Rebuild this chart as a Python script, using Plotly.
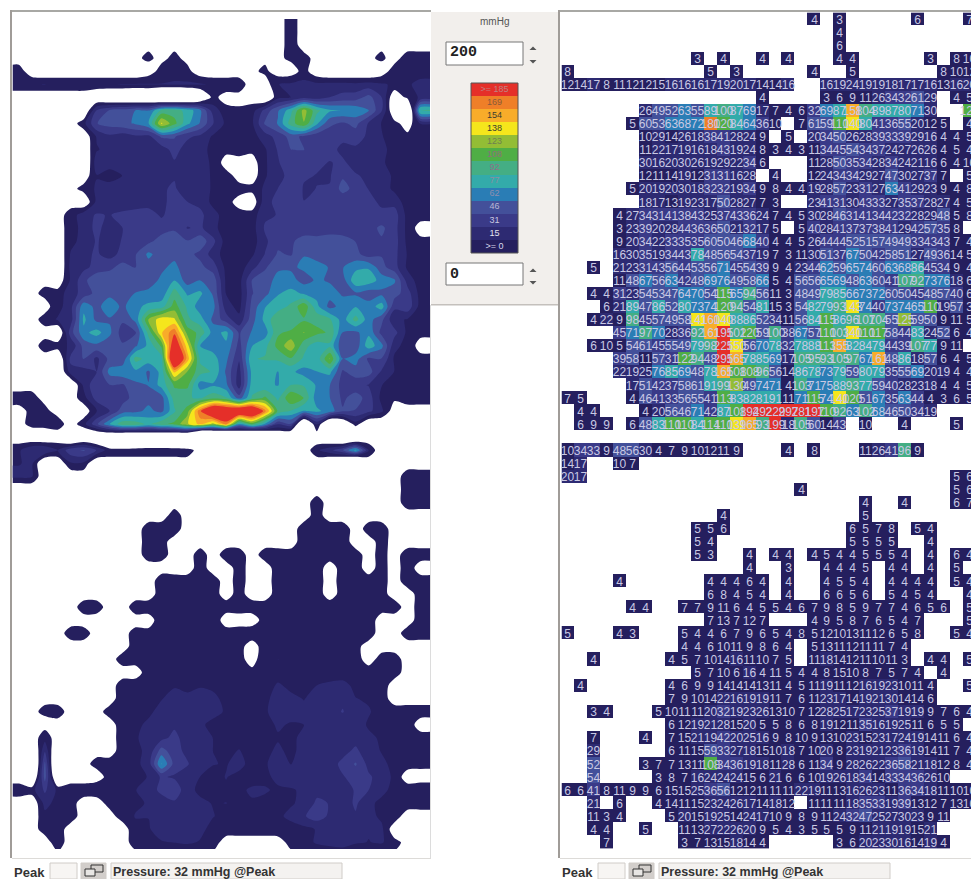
import plotly.graph_objects as go

W, H = 971, 879
CELL_W, CELL_H = 12.95, 13.07
N_COLS, N_ROWS = 32, 64

pressure = [
[0,0,0,0,0,0,0,0,0,0,0,0,0,0,0,0,0,0,0,4,0,3,0,0,0,0,0,6,0,0,0,7],
[0,0,0,0,0,0,0,0,0,0,0,0,0,0,0,0,0,0,0,0,0,4,0,0,0,0,0,0,0,0,0,0],
[0,0,0,0,0,0,0,0,0,0,0,0,0,0,0,0,0,0,0,0,0,6,0,0,0,0,0,0,0,0,0,0],
[0,0,0,0,0,0,0,0,0,0,3,0,4,0,0,4,0,4,0,0,0,4,4,0,0,0,0,0,3,0,8,10],
[8,0,0,0,0,0,0,0,0,0,0,5,0,3,0,0,0,0,0,4,0,0,5,0,0,0,0,0,0,8,10,12],
[12,14,17,8,11,12,12,15,16,16,16,17,19,20,17,14,14,16,0,0,16,19,24,19,19,18,17,17,16,13,16,20],
[0,0,0,0,0,0,0,0,0,0,0,0,0,0,0,4,0,0,0,0,3,6,9,11,26,34,32,61,29,0,4,5],
[0,0,0,0,0,0,26,49,52,63,55,89,100,87,69,17,7,4,6,32,69,87,158,104,89,87,80,71,30,0,0,120],
[0,0,0,0,0,5,60,53,63,68,72,180,120,84,64,36,10,0,7,61,59,110,140,80,41,36,55,20,12,5,0,4],
[0,0,0,0,0,0,10,29,14,26,18,38,41,28,24,9,0,5,0,20,34,50,26,28,39,33,39,29,16,4,4,5],
[0,0,0,0,0,0,11,22,17,19,16,18,43,19,24,8,3,4,3,11,34,45,54,34,37,24,27,26,26,4,5,4],
[0,0,0,0,0,0,30,16,20,30,26,19,29,22,34,6,0,0,0,11,28,50,35,34,28,34,24,21,16,6,4,10],
[0,0,0,0,0,0,12,11,14,19,12,31,31,16,28,0,4,0,0,12,24,34,34,29,27,47,30,27,37,7,0,5],
[0,0,0,0,0,5,20,19,20,30,18,32,32,19,34,9,8,4,4,19,28,57,23,31,27,63,41,29,23,9,4,8],
[0,0,0,0,0,0,18,17,13,19,23,17,50,28,27,7,3,0,0,23,41,31,30,43,33,27,35,37,28,27,4,5],
[0,0,0,0,4,27,34,31,41,38,43,25,37,43,36,24,7,4,5,30,28,46,31,41,34,42,32,28,29,48,5,8],
[0,0,0,0,3,23,39,20,28,44,36,36,50,21,32,17,5,0,5,40,28,41,37,37,38,41,29,42,57,35,8,0],
[0,0,0,0,9,20,34,22,33,35,35,60,50,46,68,40,4,4,5,26,44,44,52,51,57,49,49,33,43,43,7,4],
[0,0,0,0,16,30,35,19,34,43,78,48,56,54,37,19,7,3,11,30,51,37,67,50,42,58,51,27,49,36,14,5],
[0,0,5,0,21,23,31,43,56,44,53,56,71,45,54,39,9,4,23,44,62,59,65,74,60,63,68,86,45,34,9,4],
[0,0,0,0,11,48,67,56,63,42,48,69,76,49,58,66,5,4,56,56,65,69,48,63,60,41,107,92,73,76,18,6],
[0,0,4,4,31,23,54,53,47,64,70,54,115,65,94,56,11,3,48,49,79,85,66,73,72,60,50,45,48,57,40,6],
[0,0,0,6,21,89,47,86,52,80,73,74,120,94,54,81,15,3,54,82,79,93,143,74,40,73,74,65,110,19,57,3],
[0,0,4,22,9,98,45,57,49,58,141,160,140,88,86,52,34,11,56,84,115,86,96,107,104,55,125,59,50,9,11,5],
[0,0,0,0,45,71,97,70,28,36,92,161,195,102,120,59,100,38,67,57,110,103,140,110,117,58,44,83,24,52,6,4],
[0,0,6,10,5,54,61,45,55,49,79,98,225,150,56,70,78,32,78,88,113,155,82,84,79,44,39,107,77,9,11,0],
[0,0,0,0,39,58,11,57,31,122,94,48,295,165,78,85,69,17,105,95,93,105,97,67,161,48,86,18,57,6,4,5],
[0,0,0,0,22,19,25,76,85,69,48,78,165,108,108,96,56,14,86,78,73,79,59,80,79,35,55,69,20,19,4,4],
[0,0,0,0,0,17,51,42,37,58,61,91,99,130,49,74,71,4,103,71,75,88,93,77,59,40,28,23,18,4,4,5],
[7,5,0,0,0,4,46,41,33,56,55,41,113,83,82,81,91,11,71,115,74,140,120,51,67,35,63,44,4,3,6,5],
[0,4,4,0,0,0,4,20,56,46,71,42,87,108,194,292,229,297,281,197,110,92,63,102,68,46,50,34,19,0,0,0],
[0,6,9,9,0,6,48,83,110,110,84,114,110,139,165,93,199,18,105,60,14,43,0,10,0,0,4,0,0,0,5,0],
[0,0,0,0,0,0,0,0,0,0,0,0,0,0,0,0,0,0,0,0,0,0,0,0,0,0,0,0,0,0,0,0],
[10,34,33,9,48,56,30,4,7,9,10,12,11,9,0,0,0,4,0,8,0,0,0,11,26,41,96,9,0,0,0,0],
[14,17,0,0,10,7,0,0,0,0,0,0,0,0,0,0,0,0,0,0,0,0,0,0,0,0,0,0,0,0,0,0],
[20,17,0,0,0,0,0,0,0,0,0,0,0,0,0,0,0,0,0,0,0,0,0,0,0,0,0,0,0,0,5,6],
[0,0,0,0,0,0,0,0,0,0,0,0,0,0,0,0,0,0,4,0,0,0,0,0,0,0,0,0,0,0,5,6],
[0,0,0,0,0,0,0,0,0,0,0,0,0,0,0,0,0,0,0,0,0,0,0,4,0,0,4,0,0,0,6,7],
[0,0,0,0,0,0,0,0,0,0,0,0,4,0,0,0,0,0,0,0,0,0,0,5,0,0,0,0,0,0,0,0],
[0,0,0,0,0,0,0,0,0,0,5,5,6,0,0,0,0,0,0,0,0,0,6,5,7,8,0,5,4,0,0,0],
[0,0,0,0,0,0,0,0,0,0,5,4,0,0,0,0,0,0,0,0,0,0,5,5,5,5,0,0,4,0,0,0],
[0,0,0,0,0,0,0,0,0,0,5,3,0,0,4,0,4,4,0,4,5,4,4,5,5,5,4,0,4,0,6,4],
[0,0,0,0,0,0,0,0,0,0,0,0,0,0,4,0,0,3,0,0,4,4,4,5,0,4,4,0,4,0,5,0],
[0,0,0,0,4,0,0,0,0,0,0,4,4,4,6,4,0,4,0,0,4,5,5,4,0,4,4,4,4,0,5,4],
[0,0,0,0,0,0,0,0,0,0,0,6,8,4,5,4,0,4,0,0,6,6,5,6,0,5,4,5,4,0,0,4],
[0,0,0,0,0,4,4,0,0,7,7,9,11,6,4,5,5,4,6,7,9,8,5,9,7,7,4,6,5,6,0,5],
[0,0,0,0,0,0,0,0,0,0,0,7,13,7,12,7,0,0,0,4,9,5,8,7,6,5,4,7,0,0,0,5],
[5,0,0,0,4,3,0,0,0,5,4,4,6,7,9,6,5,4,8,5,12,10,13,11,12,6,5,8,0,0,5,4],
[0,0,0,0,0,0,0,0,0,4,4,6,10,11,9,8,6,4,0,5,13,11,12,11,11,7,4,0,0,0,0,0],
[0,0,4,0,0,0,0,0,4,5,7,10,14,16,11,10,7,5,0,11,18,14,12,11,10,11,3,0,4,4,0,5],
[0,0,0,0,0,0,0,0,0,0,5,7,10,6,16,4,11,5,4,4,8,15,10,8,7,5,7,4,0,4,0,0],
[0,4,0,0,0,0,0,0,4,6,9,9,14,14,14,13,11,4,5,11,19,11,12,16,19,23,10,11,4,0,0,5],
[0,0,0,0,0,0,0,0,7,9,10,14,22,16,19,19,11,7,6,11,23,17,14,19,21,30,14,14,6,0,0,0],
[0,0,3,4,0,0,0,5,10,11,11,20,32,19,23,26,13,10,7,12,28,25,17,23,25,37,19,19,9,7,6,4],
[0,0,0,0,0,0,0,0,6,12,19,21,28,15,20,5,5,8,6,8,19,12,11,35,16,19,25,11,6,5,5,0],
[0,0,7,0,0,0,4,0,7,15,21,19,42,20,25,16,9,8,10,9,13,10,23,15,23,17,24,19,14,11,6,4],
[0,0,29,0,0,0,0,0,6,11,15,59,33,27,18,15,10,18,7,10,20,8,23,19,21,23,36,19,14,11,7,4],
[0,0,52,0,0,0,3,7,7,13,11,108,34,36,19,18,11,28,6,11,34,9,28,26,22,36,58,21,18,12,8,4],
[0,0,54,0,0,0,0,3,8,7,16,24,24,24,15,6,21,6,6,10,19,26,18,34,14,33,34,36,26,10,0,0],
[6,6,41,8,11,9,9,6,15,15,25,36,56,12,12,11,11,11,22,19,11,13,16,26,23,11,36,34,18,11,10,10],
[0,0,21,0,6,0,0,4,14,11,15,23,24,26,17,14,18,12,0,11,11,11,18,35,33,19,39,13,12,7,13,10],
[0,0,11,3,4,0,0,0,5,20,15,19,25,14,24,17,10,9,8,9,11,24,32,47,25,27,30,23,9,11,0,0],
[0,0,4,4,0,0,5,0,0,11,13,27,22,26,20,9,5,4,3,5,5,5,9,11,21,19,19,15,21,0,0,0],
[0,0,0,7,0,0,0,0,0,3,7,13,15,18,14,4,0,0,0,0,0,3,6,20,23,30,16,14,19,4,0,0],
]

legend_values = [0, 15, 31, 46, 62, 77, 92, 108, 123, 138, 154, 169, 185]
legend_labels = [">= 0", "15", "31", "46", "62", "77", "92", "108", "123", "138", "154", "169", ">= 185"]
legend_text_colors = ["#d8d8ec", "#e4e4f0", "#c8c8e0", "#b8b8d4", "#8e8eb0", "#8c8ea0", "#8f6f8a", "#8f6f7a",
                      "#6f7f50", "#3c3c30", "#3c3c30", "#8a5a3a", "#c08080"]
band_colors = ["#251f5e", "#2d2a72", "#3a3a88", "#43509a", "#2a7db5", "#33abaa", "#44ae84", "#4fae45",
               "#93bd35", "#f5e61c", "#f8ac2a", "#ef7f28", "#e52f29"]
step = 15.3


def stepped_scale(colors):
    n = len(colors)
    out = []
    for i, c in enumerate(colors):
        out += [[i / n, c], [(i + 1) / n, c]]
    return out


scale_with_white = stepped_scale(["#ffffff"] + band_colors)


def px_x(v):
    return v / W


def px_y(v):
    return 1 - v / H


def at(grid, r, c):
    return grid[r][c] if 0 <= r < N_ROWS and 0 <= c < N_COLS else 0


def near4(grid, r, c):
    return [at(grid, r - 1, c), at(grid, r + 1, c), at(grid, r, c - 1), at(grid, r, c + 1)]


def near8(grid, r, c):
    return near4(grid, r, c) + [at(grid, r + a, c + b) for a in (-1, 1) for b in (-1, 1)]


# Left view: the same readings, with lone cells dropped and one-cell gaps closed,
# lightly blended, and empty cells made negative so outlines fall between cells.
cleaned = [[0.0] * N_COLS for _ in range(N_ROWS)]
for r in range(N_ROWS):
    for c in range(N_COLS):
        v = pressure[r][c]
        if v and any(near8(pressure, r, c)):
            cleaned[r][c] = float(v)
        elif not v and all(near4(pressure, r, c)):
            cleaned[r][c] = sum(near4(pressure, r, c)) / 4

blended = [[0.0] * N_COLS for _ in range(N_ROWS)]
for r in range(N_ROWS):
    for c in range(N_COLS):
        if cleaned[r][c]:
            nb = [x if x else cleaned[r][c] for x in near4(cleaned, r, c)]
            blended[r][c] = 0.6 * cleaned[r][c] + 0.1 * sum(nb)

contour_rows = []
for r in range(N_ROWS):
    row = []
    for c in range(N_COLS):
        if blended[r][c]:
            row.append(blended[r][c])
        else:
            nb = [x for x in near4(blended, r, c) if x]
            row.append(-max(3.0, sum(nb) / len(nb)) if nb else -3.0)
    contour_rows.append([row[0]] + row + [row[-1]])
contour_rows.append([-3.0] * (N_COLS + 2))
contour_x = [-0.5] + list(range(N_COLS)) + [32.0]
contour_y = list(range(N_ROWS + 1))

cell_z = [[(v if v else None) for v in row] for row in pressure]
cell_text = [[(str(v) if v else "") for v in row] for row in pressure]
xs = list(range(N_COLS))
ys = list(range(N_ROWS))

fig = go.Figure()

fig.add_trace(go.Contour(
    z=contour_rows, x=contour_x, y=contour_y, xaxis="x", yaxis="y",
    zmin=-step, zmax=step * 13, zauto=False, colorscale=scale_with_white, showscale=False,
    autocontour=False,
    contours=dict(start=0, end=step * 12, size=step, coloring="fill", showlines=False),
    line=dict(width=0, smoothing=0.8), hoverinfo="skip",
))

fig.add_trace(go.Heatmap(
    z=cell_z, x=xs, y=ys, xaxis="x2", yaxis="y2",
    zmin=-step, zmax=step * 13, zauto=False, colorscale=scale_with_white, showscale=False,
    text=cell_text, texttemplate="%{text}",
    textfont=dict(family="Liberation Sans", size=12, color="#c9c9e4"),
    hoverinfo="skip", xgap=0, ygap=0,
))

fig.add_trace(go.Heatmap(
    z=[[v + 1] for v in legend_values], y=list(range(13)), x=[0], xaxis="x3", yaxis="y3",
    zmin=-step, zmax=step * 13, zauto=False, colorscale=scale_with_white, showscale=False,
    hoverinfo="skip",
))
fig.add_trace(go.Scatter(
    x=[0] * 13, y=list(range(13)), xaxis="x3", yaxis="y3", mode="text",
    text=legend_labels, textfont=dict(family="Liberation Sans", size=9, color=legend_text_colors),
    hoverinfo="skip", showlegend=False,
))

axis_off = dict(visible=False, showgrid=False, zeroline=False, fixedrange=True)
L_X0, R_X0, Y0 = 12.5, 561.5, 12.4
fig.update_layout(
    width=W, height=H, margin=dict(l=0, r=0, t=0, b=0), autosize=False,
    paper_bgcolor="#ffffff", plot_bgcolor="rgba(0,0,0,0)", showlegend=False,
    xaxis=dict(axis_off, domain=[px_x(L_X0), px_x(430)], range=[-0.5, (430 - L_X0) / CELL_W - 0.5]),
    yaxis=dict(axis_off, domain=[px_y(Y0 + 64 * CELL_H), px_y(Y0)], range=[N_ROWS - 0.5, -0.5]),
    xaxis2=dict(axis_off, domain=[px_x(R_X0), 1], range=[-0.5, (W - R_X0) / CELL_W - 0.5]),
    yaxis2=dict(axis_off, domain=[px_y(Y0 + 64 * CELL_H), px_y(Y0)], range=[N_ROWS - 0.5, -0.5]),
    xaxis3=dict(axis_off, domain=[px_x(471), px_x(518)], range=[-0.5, 0.5]),
    yaxis3=dict(axis_off, domain=[px_y(253), px_y(83)], range=[-0.5, 12.5]),
)


def rect(x0, y0, x1, y1, fill=None, line=None, lw=1, layer="below"):
    return dict(type="rect", xref="paper", yref="paper", x0=px_x(x0), x1=px_x(x1), y0=px_y(y0), y1=px_y(y1),
                fillcolor=fill or "rgba(0,0,0,0)", line=dict(color=line or "rgba(0,0,0,0)", width=lw if line else 0), layer=layer)


def tri(cx, cy, up=True, size=3.5):
    d = -1 if up else 1
    pts = [(cx - size, cy), (cx + size, cy), (cx, cy + d * size)]
    path = "M " + " L ".join(f"{px_x(a)} {px_y(b)}" for a, b in pts) + " Z"
    return dict(type="path", xref="paper", yref="paper", path=path, fillcolor="#555555", line=dict(width=0), layer="above")


shapes = [
    rect(431, 12, 558, 305, fill="#f2efec"),
    rect(431, 304, 558, 305.5, fill="#c4c0bc"),
    rect(10, 10, 431, 12, fill="#a8a8a4"),
    rect(10, 10, 12, 858, fill="#a09c98"),
    rect(430, 305, 431, 858, fill="#dcdcdc"),
    rect(558, 10, 971, 12, fill="#a8a8a4"),
    rect(558, 10, 560, 858, fill="#a09c98"),
    rect(12, 858, 431, 859, fill="#dddbd8"),
    rect(560, 858, 971, 859, fill="#dddbd8"),
    rect(446, 42, 523, 65, fill="#ffffff", line="#777777", layer="above"),
    rect(446, 263, 523, 285, fill="#ffffff", line="#777777", layer="above"),
    rect(471, 83, 518, 253, line="#555555", layer="above"),
]
for cy in (50, 60, 272, 281):
    shapes.append(tri(533, cy, up=cy in (50, 272)))
for x0 in (0, 548):
    shapes += [
        rect(x0 + 50, 863, x0 + 77, 879, fill="#f7f5f3", line="#d0ccc8", layer="above"),
        rect(x0 + 81, 863, x0 + 106, 879, fill="#d2cecb", line="#d0ccc8", layer="above"),
        rect(x0 + 91, 865, x0 + 103, 872, fill="#d2cecb", line="#333333", layer="above"),
        rect(x0 + 85, 869, x0 + 95, 876, fill="#e8e6e4", line="#333333", layer="above"),
        rect(x0 + 111, 863, x0 + 342, 879, fill="#f4f2f0", line="#d0ccc8", layer="above"),
    ]
fig.update_layout(shapes=shapes)


def label(x, y, text, size=12, color="#222222", family="Liberation Sans", anchor="left", bold=False):
    return dict(xref="paper", yref="paper", x=px_x(x), y=px_y(y), text=f"<b>{text}</b>" if bold else text,
                showarrow=False, xanchor=anchor, yanchor="middle", xshift=0,
                font=dict(family=family, size=size, color=color))


annotations = [
    label(494, 21, "mmHg", size=10, color="#555555", anchor="center"),
    label(448, 53, "200", size=15, color="#222222", family="Liberation Mono", bold=True),
    label(448, 274, "0", size=15, color="#222222", family="Liberation Mono", bold=True),
]
for x0 in (0, 548):
    annotations += [
        label(x0 + 12, 872, "Peak", size=13, bold=True, color="#333333"),
        label(x0 + 111, 872, "Pressure: 32 mmHg @Peak", size=12.5, bold=True, color="#333333"),
    ]
fig.update_layout(annotations=annotations)

fig.write_html("out.html", config={"displayModeBar": False},
               post_script="document.body.style.margin='0';document.body.style.overflow='hidden';")
